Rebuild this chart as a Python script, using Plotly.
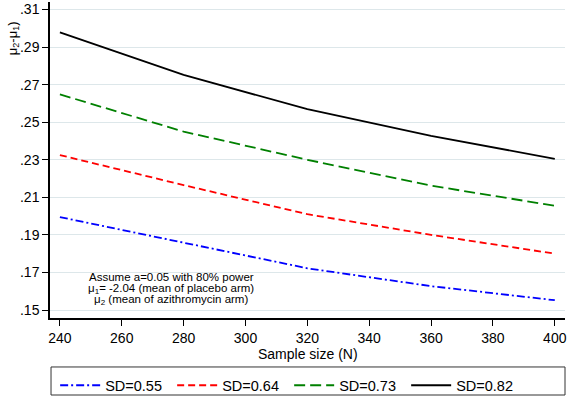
import plotly.graph_objects as go

sample_size = [240, 280, 320, 360, 400]
sd_055 = [0.1995, 0.1860, 0.1722, 0.1627, 0.1552]
sd_064 = [0.2325, 0.2165, 0.2010, 0.1900, 0.1800]
sd_073 = [0.2648, 0.2450, 0.2300, 0.2162, 0.2055]
sd_082 = [0.2978, 0.2752, 0.2569, 0.2427, 0.2305]

series_names = ["SD=0.55", "SD=0.64", "SD=0.73", "SD=0.82"]
series_vals = [sd_055, sd_064, sd_073, sd_082]
colors = ["#0000ff", "#ff0000", "#008000", "#000000"]
dashes = ["8px,3px,2px,3px", "7px,4px", "11px,5px", "solid"]

y_tickvals = [0.15, 0.17, 0.19, 0.21, 0.23, 0.25, 0.27, 0.29, 0.31]
y_ticktext = [".15", ".17", ".19", ".21", ".23", ".25", ".27", ".29", ".31"]
x_tickvals = [240, 260, 280, 300, 320, 340, 360, 380, 400]

note_lines = [
    "Assume a=0.05 with 80% power",
    "μ<sub>1</sub>= -2.04 (mean of placebo arm)",
    "μ<sub>2</sub> (mean of azithromycin arm)",
]

FONT = "Liberation Sans, Arial, sans-serif"

fig = go.Figure()
for name, vals, c, d in zip(series_names, series_vals, colors, dashes):
    fig.add_trace(go.Scatter(
        x=sample_size, y=vals, mode="lines", name=name,
        line=dict(color=c, width=1.8, dash=d),
    ))

fig.update_layout(
    width=567, height=396,
    margin=dict(l=50, r=2, t=2, b=78, autoexpand=False),
    paper_bgcolor="white", plot_bgcolor="white",
    font=dict(family=FONT, size=14, color="black"),
    showlegend=True,
    legend=dict(
        orientation="h", x=0.01, xanchor="left", y=-0.213, yanchor="middle",
        bgcolor="rgba(0,0,0,0)", borderwidth=0,
        font=dict(family=FONT, size=14.5, color="black"),
        entrywidth=62, entrywidthmode="pixels",
        itemwidth=40, tracegroupgap=0,
    ),
    xaxis=dict(
        range=[236.8, 403.3], tickvals=x_tickvals,
        showline=True, linecolor="black", linewidth=1.5,
        ticks="outside", ticklen=6, tickcolor="black", tickwidth=1.2,
        showgrid=False, zeroline=False, automargin=False,
        tickfont=dict(size=14),
    ),
    yaxis=dict(
        range=[0.14574, 0.314], tickvals=y_tickvals, ticktext=y_ticktext,
        showline=True, linecolor="black", linewidth=1.5,
        ticks="outside", ticklen=6, tickcolor="black", tickwidth=1.2,
        showgrid=True, gridcolor="#dde7ea", gridwidth=1,
        zeroline=False, automargin=False, tickfont=dict(size=14),
    ),
)

# legend frame
fig.add_shape(type="rect", xref="paper", yref="paper",
              x0=0.002, x1=1.0, y0=-0.155, y1=-0.2437,
              line=dict(color="#333333", width=1), fillcolor="rgba(0,0,0,0)")

# x-axis title
fig.add_annotation(text="Sample size (N)", xref="paper", yref="paper",
                   x=0.5, y=-0.115, xanchor="center", yanchor="middle",
                   showarrow=False, font=dict(size=14, family=FONT))

# y-axis title (partially visible in the original)
fig.add_annotation(
    text="μ<sub>2</sub>-μ<sub>1</sub>)", textangle=-90,
    xref="paper", yref="paper", x=-0.072, y=0.885,
    xanchor="center", yanchor="middle", showarrow=False,
    font=dict(size=13, family=FONT),
)

note_y = [0.1297, 0.0918, 0.057]
for txt, yy in zip(note_lines, note_y):
    fig.add_annotation(
        text=txt, xref="paper", yref="paper", x=0.235, y=yy,
        xanchor="center", yanchor="middle", showarrow=False,
        font=dict(size=11.5, family=FONT),
    )

fig.write_html(
    "out.html",
    config={"displayModeBar": False},
    post_script="document.body.style.margin='0';document.body.style.overflow='hidden';",
)
